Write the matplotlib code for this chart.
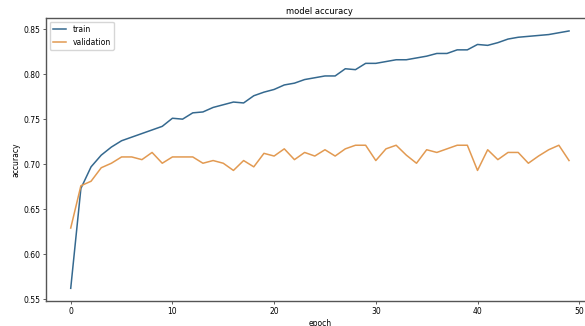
import matplotlib
matplotlib.use("Agg")
import matplotlib.pyplot as plt

# accuracy per epoch
train_acc = [0.562, 0.673, 0.697, 0.710, 0.719, 0.726, 0.730, 0.734, 0.738, 0.742,
             0.751, 0.750, 0.757, 0.758, 0.763, 0.766, 0.769, 0.768, 0.776, 0.780,
             0.783, 0.788, 0.790, 0.794, 0.796, 0.798, 0.798, 0.806, 0.805, 0.812,
             0.812, 0.814, 0.816, 0.816, 0.818, 0.820, 0.823, 0.823, 0.827, 0.827,
             0.833, 0.832, 0.835, 0.839, 0.841, 0.842, 0.843, 0.844, 0.846, 0.848]
val_acc = [0.629, 0.676, 0.681, 0.696, 0.701, 0.708, 0.708, 0.705, 0.713, 0.701,
           0.708, 0.708, 0.708, 0.701, 0.704, 0.701, 0.693, 0.704, 0.697, 0.712,
           0.709, 0.717, 0.705, 0.713, 0.709, 0.716, 0.709, 0.717, 0.721, 0.721,
           0.704, 0.717, 0.721, 0.710, 0.701, 0.716, 0.713, 0.717, 0.721, 0.721,
           0.693, 0.716, 0.705, 0.713, 0.713, 0.701, 0.709, 0.716, 0.721, 0.704]
epochs = list(range(len(train_acc)))

fig = plt.figure(figsize=(5.85, 3.26), dpi=100)
ax = fig.add_axes([0.0783, 0.0761, 0.937, 0.8684])

ax.plot(epochs, train_acc, color='#35698f', lw=1.1, label='train')
ax.plot(epochs, val_acc, color='#e29a52', lw=1.1, label='validation')

ax.set_title('model accuracy', fontsize=6, pad=3)
ax.set_xlabel('epoch', fontsize=5.5, labelpad=2)
ax.set_ylabel('accuracy', fontsize=5.5, labelpad=2)
ax.tick_params(labelsize=5.5, length=2, width=0.6, pad=2, color='#444')
for s in ax.spines.values():
    s.set_color('#555555')
    s.set_linewidth(1.0)

ax.legend(loc='upper left', fontsize=5.5, frameon=True, handlelength=1.8,
          borderpad=0.4, labelspacing=0.5)

fig.savefig('out.png', dpi=100)
